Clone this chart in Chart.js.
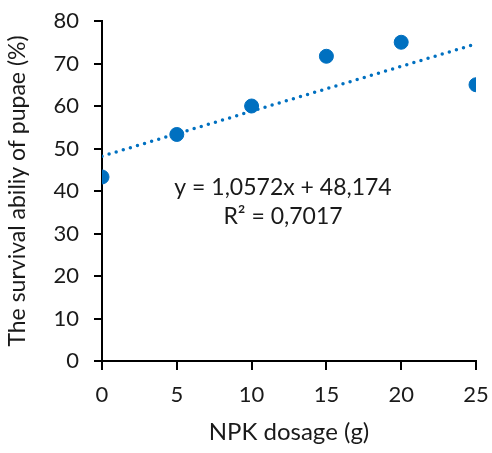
<!DOCTYPE html>
<html>
<head>
<meta charset="utf-8">
<script src="https://cdn.jsdelivr.net/npm/chart.js@4.4.1/dist/chart.umd.min.js"></script>
<style>
  html, body { margin: 0; padding: 0; background: #fff; }
  #wrap { width: 492px; height: 453px; }
</style>
</head>
<body>
<div id="wrap"><canvas id="chart" width="492" height="453"></canvas></div>
<script>
// Measured values (NPK dosage vs pupae survival)
const dosage = [0, 5, 10, 15, 20, 25];
const survival = [43.3, 53.3, 60, 71.7, 75, 65];

// Linear trendline end points
const trendX = [0, 25];
const trendY = [48.2, 74.6];

const xTicks = [0, 5, 10, 15, 20, 25];
const yTicks = [0, 10, 20, 30, 40, 50, 60, 70, 80];

const equationLines = ['y = 1,0572x + 48,174', 'R² = 0,7017'];

const blue = '#0070C0';
const textColor = '#1a1a1a';
const fontFamily = 'Lato, "Open Sans", sans-serif';

// Draws the trendline equation in the plot area
const equationLabel = {
    id: 'equationLabel',
    afterDatasetsDraw(chart) {
        const { ctx, scales } = chart;
        const x = scales.x.getPixelForValue(12.1);
        ctx.save();
        ctx.fillStyle = textColor;
        ctx.font = '23px ' + fontFamily;
        ctx.textAlign = 'center';
        ctx.textBaseline = 'middle';
        ctx.fillText(equationLines[0], x, scales.y.getPixelForValue(40.9));
        ctx.fillText(equationLines[1], x, scales.y.getPixelForValue(33.9));
        ctx.restore();
    }
};

const ctx = document.getElementById('chart').getContext('2d');
new Chart(ctx, {
    type: 'scatter',
    data: {
        datasets: [
            {
                label: 'Survival',
                data: dosage.map((x, i) => ({ x: x, y: survival[i] })),
                backgroundColor: blue,
                borderColor: blue,
                pointRadius: 7,
                pointHoverRadius: 7,
                order: 1
            },
            {
                label: 'Trend',
                type: 'line',
                data: trendX.map((x, i) => ({ x: x, y: trendY[i] })),
                borderColor: blue,
                borderWidth: 3.5,
                borderCapStyle: 'round',
                borderDash: [0, 7.4],
                pointRadius: 0,
                fill: false,
                order: 2
            }
        ]
    },
    options: {
        responsive: false,
        animation: false,
        layout: { padding: { left: 0, top: 21, right: 16, bottom: 0 } },
        plugins: {
            legend: { display: false },
            tooltip: { enabled: false }
        },
        scales: {
            x: {
                type: 'linear',
                min: 0,
                max: 25,
                afterFit(scale) {
                    scale.height = 92;
                    scale.paddingLeft = 0;
                    scale.paddingRight = 0;
                },
                afterBuildTicks(scale) { scale.ticks = xTicks.map(v => ({ value: v })); },
                border: { color: '#000', width: 2 },
                grid: {
                    drawOnChartArea: false,
                    color: '#000',
                    lineWidth: 2,
                    tickLength: 9
                },
                ticks: {
                    color: textColor,
                    font: { family: fontFamily, size: 22 },
                    padding: 12,
                    maxRotation: 0
                },
                title: {
                    display: true,
                    text: 'NPK dosage (g)',
                    color: textColor,
                    font: { family: fontFamily, size: 24 },
                    padding: { top: 4, bottom: 6 }
                }
            },
            y: {
                min: 0,
                max: 80,
                afterFit(scale) {
                    scale.width = 102;
                    scale.paddingTop = 0;
                    scale.paddingBottom = 0;
                },
                afterBuildTicks(scale) { scale.ticks = yTicks.map(v => ({ value: v })); },
                border: { color: '#000', width: 2 },
                grid: {
                    drawOnChartArea: false,
                    color: '#000',
                    lineWidth: 2,
                    tickLength: 8
                },
                ticks: {
                    color: textColor,
                    font: { family: fontFamily, size: 22 },
                    padding: 15
                },
                title: {
                    display: true,
                    text: 'The survival abiliy of pupae (%)',
                    color: textColor,
                    font: { family: fontFamily, size: 23 },
                    padding: { top: 4, bottom: 4 }
                }
            }
        }
    },
    plugins: [equationLabel]
});
</script>
</body>
</html>
